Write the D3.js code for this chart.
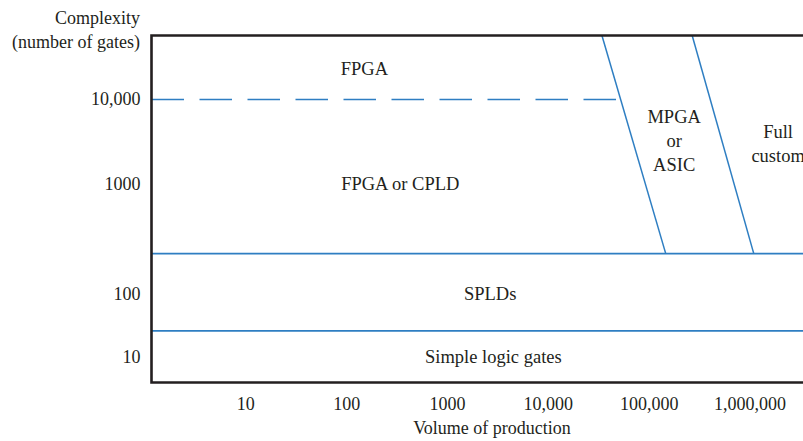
<!DOCTYPE html>
<html><head><meta charset="utf-8">
<script src="https://cdn.jsdelivr.net/npm/d3@7"></script>
<style>body{margin:0;background:#fff}</style>
</head><body><svg id="c" width="803" height="441"></svg>
<script>
// ---- data ----
const volumeTicks = [10, 100, 1000, 10000, 100000, 1000000];
const volumeTickLabels = ["10", "100", "1000", "10,000", "100,000", "1,000,000"];
const complexityTicks = [10, 100, 1000, 10000];
const complexityTickLabels = ["10", "100", "1000", "10,000"];
const complexityBottom = 4;
const complexityTop = 60000;
const simpleGatesMax = 26;
const spldMax = 233;
const fpgaSplit = 10000;
const fpgaSplitEndVolume = 47000;
const mpgaBoundaryVolume = [34000, 146000];
const fullCustomBoundaryVolume = [267000, 1090000];
const boundaryComplexity = [complexityTop, spldMax];
const regionNames = [["FPGA"], ["FPGA or CPLD"], ["SPLDs"], ["Simple logic gates"], ["MPGA", "or", "ASIC"], ["Full", "custom"]];
const regionVolume = [150, 340, 2650, 2850, 177000, 1900000];
const regionComplexity = [24000, 1000, 100, 10, 3300, 3000];
const yTitle = ["Complexity", "(number of gates)"];
const xTitle = "Volume of production";

// ---- layout ----
const frame = {left: 151.5, right: 806, top: 35.5, bottom: 382.5};
const BLUE = "#2e7ec2", INK = "#231f20";
const FONT = "'Liberation Serif', 'Times New Roman', serif";

const svg = d3.select("#c");
const x = d3.scaleLog().domain([1, 1e6]).range([145, 750]);
const y = d3.scaleLog()
  .domain([complexityBottom, 10, 100, 1000, 10000, complexityTop])
  .range([frame.bottom, 357, 294, 184, 99.5, frame.top]);

// blue boundaries
const g = svg.append("g");
[spldMax, simpleGatesMax].forEach(v => {
  g.append("line").attr("x1", frame.left).attr("x2", frame.right)
    .attr("y1", y(v)).attr("y2", y(v))
    .attr("stroke", BLUE).attr("stroke-width", 1.6);
});
g.append("line").attr("x1", frame.left).attr("x2", x(fpgaSplitEndVolume))
  .attr("y1", y(fpgaSplit)).attr("y2", y(fpgaSplit))
  .attr("stroke", BLUE).attr("stroke-width", 1.6)
  .attr("stroke-dasharray", "32.5,15.5");
const line = d3.line().x(d => x(d[0])).y(d => y(d[1]));
[mpgaBoundaryVolume, fullCustomBoundaryVolume].forEach(vs => {
  g.append("path").attr("d", line(vs.map((v, i) => [v, boundaryComplexity[i]])))
    .attr("fill", "none").attr("stroke", BLUE).attr("stroke-width", 1.5);
});

// axes (labels only)
const yAxis = d3.axisLeft(y).tickValues(complexityTicks)
  .tickFormat((d, i) => complexityTickLabels[i]).tickSize(0).tickPadding(11).offset(0);
const ya = svg.append("g").attr("transform", `translate(${frame.left},0)`).call(yAxis);
const xAxis = d3.axisBottom(x).tickValues(volumeTicks)
  .tickFormat((d, i) => volumeTickLabels[i]).tickSize(0).tickPadding(15).offset(0);
const xa = svg.append("g").attr("transform", `translate(0,${frame.bottom})`).call(xAxis);
[ya, xa].forEach(a => {
  a.select(".domain").remove();
  a.attr("font-family", null).attr("font-size", null);
  a.selectAll("text").attr("font-family", FONT).attr("font-size", 18).attr("fill", INK);
});

// frame
const fr = svg.append("g").attr("stroke", INK).attr("stroke-width", 2.6).attr("fill", "none");
fr.append("path").attr("d", `M${frame.right},${frame.top}H${frame.left}V${frame.bottom}H${frame.right}`);

// titles
const t = svg.append("g").attr("font-family", FONT).attr("font-size", 18).attr("fill", INK);
yTitle.forEach((s, i) => t.append("text").attr("x", 140).attr("y", 24 + i * 24)
  .attr("text-anchor", "end").text(s));
t.append("text").attr("x", 492).attr("y", 434).attr("text-anchor", "middle").text(xTitle);

// region labels
regionNames.forEach((lines, k) => {
  const cx = x(regionVolume[k]), cy = y(regionComplexity[k]);
  const n = lines.length;
  lines.forEach((s, i) => {
    t.append("text").attr("x", cx).attr("y", cy + (i - (n - 1) / 2) * 24)
      .attr("dy", "0.35em").attr("text-anchor", "middle")
      .attr("font-size", 18.5).text(s);
  });
});
</script></body></html>
